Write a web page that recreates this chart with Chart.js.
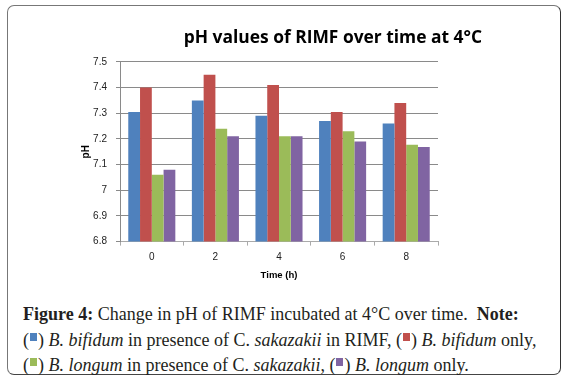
<!DOCTYPE html>
<html>
<head>
<meta charset="utf-8">
<script src="https://cdn.jsdelivr.net/npm/chart.js@4/dist/chart.umd.min.js"></script>
<style>
  html, body { margin: 0; padding: 0; background: #fff; width: 569px; height: 383px; overflow: hidden; }
  #frame { position: absolute; left: 7px; top: 5px; width: 552px; height: 368px;
           border: 1.5px solid #777; border-right-color: #333; border-bottom-color: #444; border-radius: 7px; }
  #chartWrap { position: absolute; left: 7px; top: 5px; width: 553px; height: 290px; }
  #caption { position: absolute; left: 23px; top: 302px; width: 536px;
             font-family: "Liberation Serif", "Times New Roman", serif; font-size: 18px; line-height: 25.5px; color: #231f20; white-space: nowrap; }
  #caption b { font-weight: bold; }
  .sw { display: inline-block; width: 7px; height: 8px; vertical-align: 5px; margin: 0 1px; }
</style>
</head>
<body>
<div id="frame"></div>
<div id="chartWrap"><canvas id="c" width="553" height="290"></canvas></div>
<div id="caption">
  <b>Figure 4:</b> Change in pH of RIMF incubated at 4°C over time.&nbsp; <b>Note:</b><br>
  (<span class="sw" style="background:#4F81BD"></span>) <i>B. bifidum</i> in presence of C. <i>sakazakii</i> in RIMF, (<span class="sw" style="background:#C0504D"></span>) <i>B. bifidum</i> only,<br>
  (<span class="sw" style="background:#9BBB59"></span>) <i>B. longum</i> in presence of C. <i>sakazakii</i>, (<span class="sw" style="background:#8064A2"></span>) <i>B. longum</i> only.
</div>
<script>
const categories = ["0", "2", "4", "6", "8"];
const seriesNames = ["B. bifidum + C. sakazakii", "B. bifidum only", "B. longum + C. sakazakii", "B. longum only"];
const bifidumWithSakazakii = [7.305, 7.35, 7.29, 7.27, 7.26];
const bifidumOnly = [7.40, 7.45, 7.41, 7.305, 7.34];
const longumWithSakazakii = [7.06, 7.24, 7.21, 7.23, 7.177];
const longumOnly = [7.08, 7.21, 7.21, 7.19, 7.168];
const seriesColors = ["#4F81BD", "#C0504D", "#9BBB59", "#8064A2"];
const yMin = 6.8, yMax = 7.5, yStep = 0.1;

const values = [bifidumWithSakazakii, bifidumOnly, longumWithSakazakii, longumOnly];
const datasets = values.map((v, i) => ({
  label: seriesNames[i],
  data: v,
  backgroundColor: seriesColors[i],
  borderWidth: 0,
  categoryPercentage: 0.74,
  barPercentage: 1.0
}));

new Chart(document.getElementById("c"), {
  type: "bar",
  data: { labels: categories, datasets },
  options: {
    responsive: false,
    animation: false,
    layout: { padding: { left: 73, right: 78, top: 0, bottom: 14 } },
    plugins: {
      legend: { display: false },
      tooltip: { enabled: false },
      title: {
        display: true,
        text: "pH values of RIMF over time at 4°C",
        align: "end",
        color: "#000",
        font: { family: "Open Sans", size: 17.4, weight: "bold" },
        padding: { top: 23, bottom: 13 }
      }
    },
    scales: {
      x: {
        offset: true,
        grid: { display: true, offset: true, drawOnChartArea: false, drawTicks: true, tickLength: 4, color: "#aaa" },
        border: { display: true, color: "#aaa" },
        ticks: { color: "#222", font: { family: "Liberation Sans", size: 10 }, padding: 6 },
        title: { display: true, text: "Time (h)", color: "#000", font: { family: "Liberation Sans", size: 9.5, weight: "bold" }, padding: { top: 0, bottom: 0 } }
      },
      y: {
        min: yMin, max: yMax,
        ticks: { stepSize: yStep, color: "#222", font: { family: "Liberation Sans", size: 10 }, padding: 9,
                 callback: v => Math.round(v * 10) / 10 + "" },
        grid: { color: "#8a8a8a", tickLength: 4 },
        border: { display: true, color: "#8a8a8a" },
        title: { display: true, text: "pH", color: "#000", font: { family: "Liberation Sans", size: 10, weight: "bold" }, padding: 0 },
        afterFit: s => { s.width = 40; }
      },
      spacer: {
        type: "linear",
        position: "right",
        display: true,
        grid: { display: false },
        border: { display: false },
        ticks: { display: false },
        afterFit: s => { s.width = 44; }
      }
    }
  }
});
</script>
</body>
</html>
